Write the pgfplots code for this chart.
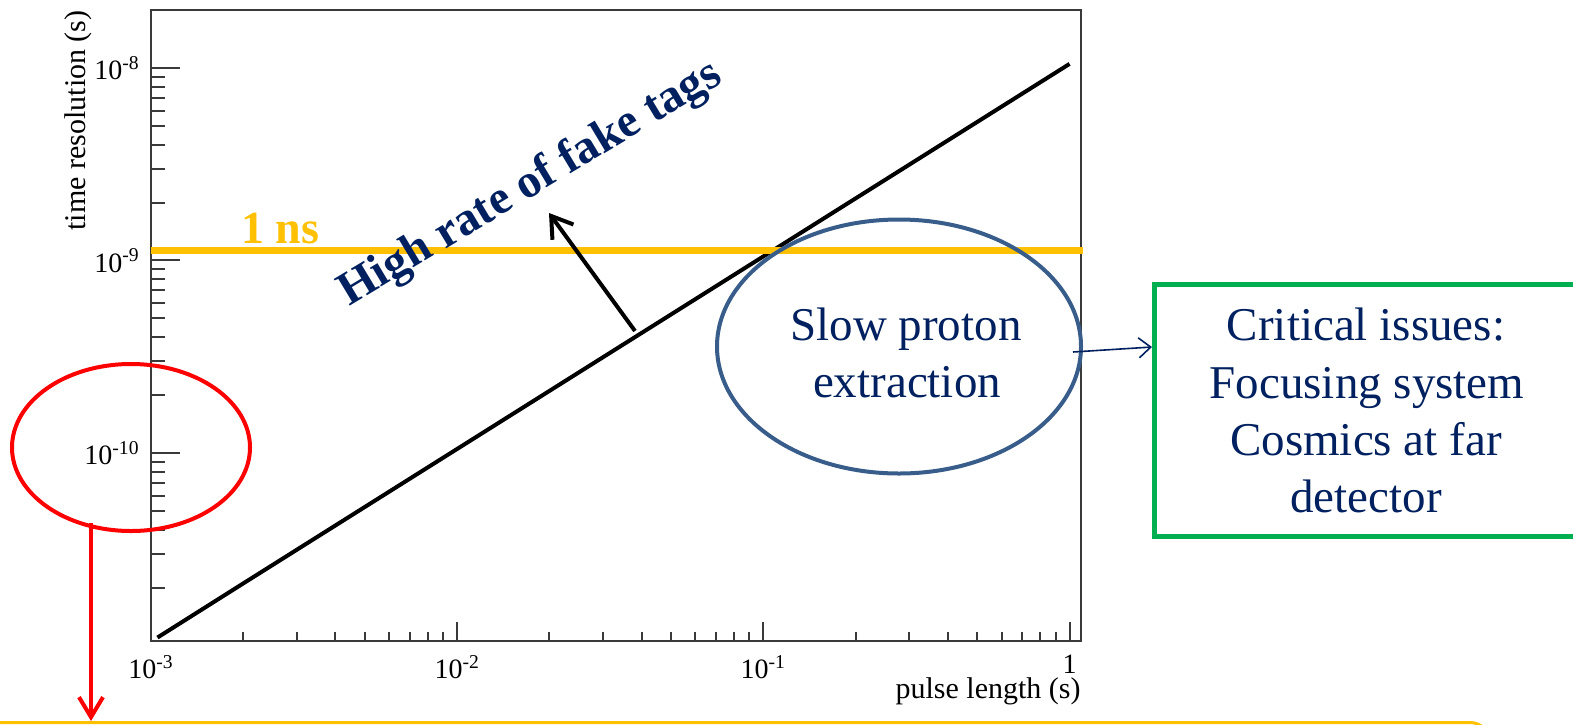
\documentclass[border=0pt]{standalone}
\usepackage{fontspec}
\setmainfont{Liberation Serif}
\usepackage{pgfplots}
\usepackage{pgfplotstable}
\pgfplotsset{compat=1.18}
\usetikzlibrary{arrows.meta}

\definecolor{ppyellow}{HTML}{FFC000}
\definecolor{ppnavy}{HTML}{002060}
\definecolor{ppblue}{HTML}{385D8A}
\definecolor{ppgreen}{HTML}{00B050}
\definecolor{rootgray}{HTML}{3A3A3A}

% time resolution versus pulse length
\pgfplotstableread{
x       y
0.00105 1.10e-11
0.002   2.10e-11
0.005   5.25e-11
0.01    1.05e-10
0.02    2.10e-10
0.05    5.25e-10
0.1     1.05e-9
0.2     2.10e-9
0.5     5.25e-9
1.0     1.05e-8
}\timeres

\newcommand{\ticksize}{\fontsize{14pt}{14pt}\selectfont}
\newcommand{\titlesize}{\fontsize{15pt}{15pt}\selectfont}
\newcommand{\notesize}{\fontsize{23.5pt}{28.5pt}\selectfont}

\begin{document}
\begin{tikzpicture}
% frame, x ticks and the curve
\begin{axis}[
  at={(75.5pt,-320.5pt)}, anchor=south west, scale only axis,
  width=465pt, height=315.5pt,
  xmode=log, ymode=log,
  xmin=1e-3, xmax=1.09, ymin=1.055e-11, ymax=2e-8,
  axis line style={rootgray, line width=1pt},
  tick style={rootgray, line width=1pt},
  tick align=inside,
  xtick pos=left,
  xtick={1e-3,1e-2,1e-1,1},
  xticklabels={10\textsuperscript{-3},10\textsuperscript{-2},10\textsuperscript{-1},1},
  minor xtick={2e-3,3e-3,4e-3,5e-3,6e-3,7e-3,8e-3,9e-3,
               2e-2,3e-2,4e-2,5e-2,6e-2,7e-2,8e-2,9e-2,
               0.2,0.3,0.4,0.5,0.6,0.7,0.8,0.9},
  ytick=\empty,
  major tick length=9.5pt, minor tick length=4.5pt,
  xticklabel style={font=\ticksize, inner sep=0pt, yshift=-7pt},
  xlabel={pulse length (s)},
  xlabel style={at={(axis description cs:1,0)}, anchor=base east,
    yshift=-28.5pt, font=\titlesize, inner sep=0pt},
]
\addplot[black, line width=2pt] table[x=x, y=y] {\timeres};
\end{axis}
% y ticks (longer tick marks on this axis)
\begin{axis}[
  at={(75.5pt,-320.5pt)}, anchor=south west, scale only axis,
  width=465pt, height=315.5pt,
  xmode=log, ymode=log,
  xmin=1e-3, xmax=1.09, ymin=1.055e-11, ymax=2e-8,
  axis line style={rootgray, line width=1pt},
  tick style={rootgray, line width=1pt},
  tick align=inside,
  xtick=\empty,
  ytick pos=left,
  ytick={1e-10,1e-9,1e-8},
  yticklabels={10\textsuperscript{-10},10\textsuperscript{-9},10\textsuperscript{-8}},
  minor ytick={2e-11,3e-11,4e-11,5e-11,6e-11,7e-11,8e-11,9e-11,
               2e-10,3e-10,4e-10,5e-10,6e-10,7e-10,8e-10,9e-10,
               2e-9,3e-9,4e-9,5e-9,6e-9,7e-9,8e-9,9e-9},
  major tick length=14.5pt, minor tick length=7pt,
  yticklabel style={font=\ticksize, inner sep=0pt, xshift=-5.5pt},
  ylabel={time resolution (s)},
  ylabel style={at={(axis description cs:-0.07,1)}, anchor=base east,
    font=\titlesize, inner sep=0pt},
]
\end{axis}

\begin{scope}[x=0.5pt, y=-0.5pt]
  % 1 ns threshold
  \draw[ppyellow, line width=3.6pt] (151,250.5) -- (1083,250.5);
  \node[anchor=base west, inner sep=0pt, text=ppyellow,
        font=\bfseries\fontsize{23pt}{23pt}\selectfont] at (241,243) {1 ns};
  % region above the curve
  \node[anchor=base west, inner sep=0pt, rotate=31, text=ppnavy,
        font=\bfseries\fontsize{23.7pt}{23.7pt}\selectfont] at (349,307) {High rate of fake tags};
  \draw[black, line width=2pt, -{Straight Barb[length=10pt, width=13pt]}]
        (635,331) -- (549,213);
  % slow extraction region
  \draw[ppblue, line width=2pt] (899,346.5) ellipse [x radius=182, y radius=127];
  \node[anchor=base, inner sep=0pt, text=ppnavy, font=\notesize] at (906,340) {Slow proton};
  \node[anchor=base, inner sep=0pt, text=ppnavy, font=\notesize] at (907,397) {extraction};
  \draw[ppnavy, line width=0.8pt, -{Straight Barb[length=6pt, width=10pt]}]
        (1073,352) -- (1152,347);
  % critical issues box
  \draw[ppgreen, line width=2.5pt, line join=miter] (1154,284) rectangle (1700,536);
  \node[anchor=base, inner sep=0pt, text=ppnavy, font=\notesize] at (1366,340) {Critical issues:};
  \node[anchor=base, inner sep=0pt, text=ppnavy, font=\notesize] at (1367,398) {Focusing system};
  \node[anchor=base, inner sep=0pt, text=ppnavy, font=\notesize] at (1366,455) {Cosmics at far};
  \node[anchor=base, inner sep=0pt, text=ppnavy, font=\notesize] at (1366,512) {detector};
  % short pulses
  \draw[red, line width=2pt] (131,447.5) ellipse [x radius=119, y radius=83.5];
  \draw[red, line width=2pt, -{Straight Barb[length=10pt, width=12pt]}] (91,523) -- (91,721);
  % box below
  \draw[ppyellow, line width=1.5pt, rounded corners=10pt] (-20,722.5) rectangle (1490,800);
  \pgfresetboundingbox
  \path[use as bounding box] (0,0) rectangle (1573,724);
\end{scope}
\end{tikzpicture}
\end{document}
